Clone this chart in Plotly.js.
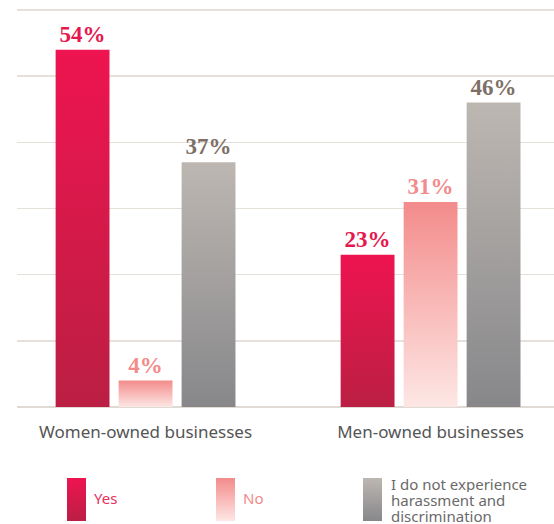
<!DOCTYPE html>
<html>
<head>
<meta charset="utf-8">
<script src="https://cdn.plot.ly/plotly-3.0.1.min.js"></script>
<style>html,body{margin:0;padding:0;background:#fff;}#chart{width:554px;height:524px;}</style>
</head>
<body>
<div id="chart"></div>
<script>
// ---- data ----
const categories = ['Women-owned businesses', 'Men-owned businesses'];
const seriesNames = ['Yes', 'No', 'I do not experience<br>harassment and<br>discrimination'];
const yesValues = [54, 23];
const noValues = [4, 31];
const notExperienceValues = [37, 46];

// ---- styles ----
const gradients = {
  gYes: ['#ee1450', '#bb1f43'],
  gNo: ['#f38b8b', '#fde7e4'],
  gGray: ['#bdb7b2', '#87878a']
};
const labelColors = ['#e5174f', '#f28b8b', '#7e6f67'];
const legendTextColors = ['#e8305e', '#f08a8a', '#6a6a6a'];
const gradIds = ['gYes', 'gNo', 'gGray'];

function mkTrace(vals, i) {
  return {
    type: 'bar',
    name: seriesNames[i],
    x: categories,
    y: vals,
    marker: {color: gradients[gradIds[i]][0], line: {width: 0}},
    texttemplate: '<b>%{y}%</b>',
    textposition: 'outside',
    textfont: {family: 'Liberation Serif, serif', size: 23, color: labelColors[i]},
    cliponaxis: false,
    hoverinfo: 'skip'
  };
}

const traces = [mkTrace(yesValues, 0), mkTrace(noValues, 1), mkTrace(notExperienceValues, 2)];

function svgGrad(c) {
  const s = '<svg xmlns="http://www.w3.org/2000/svg" width="19" height="43" preserveAspectRatio="none" viewBox="0 0 19 43">' +
    '<defs><linearGradient id="g" x1="0" y1="0" x2="0" y2="1"><stop offset="0" stop-color="' + c[0] + '"/><stop offset="1" stop-color="' + c[1] + '"/></linearGradient></defs>' +
    '<rect width="19" height="43" fill="url(#g)"/></svg>';
  return 'data:image/svg+xml;charset=utf-8,' + encodeURIComponent(s);
}

const T = 8, BM = 117;
const W = 537, H = 524 - T - BM, L = 17, B = 524 - BM;
function px(x) { return (x - L) / W; }
function py(y) { return (B - y) / H; }

const swatchX = [67, 216, 363];
const textX = [93, 242, 390];
const images = gradIds.map((g, i) => ({
  source: svgGrad(gradients[g]),
  xref: 'paper', yref: 'paper',
  x: px(swatchX[i]), y: py(478),
  sizex: 19 / W, sizey: 43 / H,
  xanchor: 'left', yanchor: 'top',
  sizing: 'stretch', layer: 'above'
}));
const annotations = [];
seriesNames.forEach((n, i) => {
  const lines = n.split('<br>');
  const y0 = lines.length === 1 ? 498 : 484;
  lines.forEach((ln, k) => {
    annotations.push({
      text: ln,
      xref: 'paper', yref: 'paper',
      x: px(textX[i]), y: py(y0 + k * 16),
      xanchor: 'left', yanchor: 'middle', align: 'left', valign: 'middle',
      height: 16, borderpad: 0,
      showarrow: false,
      font: {family: 'Noto Sans, sans-serif', size: 15, color: legendTextColors[i]}
    });
  });
});

const layout = {
  width: 554, height: 524,
  margin: {l: 17, r: 0, t: T, b: BM},
  paper_bgcolor: '#ffffff', plot_bgcolor: '#ffffff',
  barmode: 'group',
  bargap: 0.337,
  bargroupgap: 0.145,
  showlegend: false,
  font: {family: 'Noto Sans, sans-serif', color: '#555'},
  xaxis: {
    type: 'category',
    range: [-0.451, 1.433],
    showgrid: false, zeroline: false, showline: false,
    ticks: '', ticklabelstandoff: 13,
    tickfont: {family: 'Noto Sans, sans-serif', size: 17, color: '#555555'}
  },
  yaxis: {
    range: [0, 60.3],
    tickvals: [0, 10, 20, 30, 40, 50, 60],
    showticklabels: false,
    showgrid: true, gridcolor: '#e6e0db', gridwidth: 1.5,
    zeroline: true, zerolinecolor: '#e0dad5', zerolinewidth: 2,
    showline: false, ticks: ''
  },
  images: images,
  annotations: annotations
};

function applyGradients(gd) {
  const svg = gd.querySelector('svg.main-svg');
  let defs = svg.querySelector('defs');
  if (!defs) { defs = document.createElementNS('http://www.w3.org/2000/svg', 'defs'); svg.insertBefore(defs, svg.firstChild); }
  gradIds.forEach(id => {
    if (svg.querySelector('#' + id)) return;
    const lg = document.createElementNS('http://www.w3.org/2000/svg', 'linearGradient');
    lg.setAttribute('id', id);
    lg.setAttribute('x1', '0'); lg.setAttribute('y1', '0'); lg.setAttribute('x2', '0'); lg.setAttribute('y2', '1');
    gradients[id].forEach((c, k) => {
      const st = document.createElementNS('http://www.w3.org/2000/svg', 'stop');
      st.setAttribute('offset', String(k));
      st.setAttribute('stop-color', c);
      lg.appendChild(st);
    });
    defs.appendChild(lg);
  });
  const groups = gd.querySelectorAll('.barlayer .trace.bars');
  groups.forEach((g, i) => {
    g.querySelectorAll('.point path').forEach(p => { p.style.fill = 'url(#' + gradIds[i] + ')'; });
  });
}

const gd = document.getElementById('chart');
Plotly.newPlot(gd, traces, layout, {displayModeBar: false, staticPlot: true}).then(() => {
  applyGradients(gd);
  gd.on && gd.on('plotly_afterplot', () => applyGradients(gd));
});
</script>
</body>
</html>
